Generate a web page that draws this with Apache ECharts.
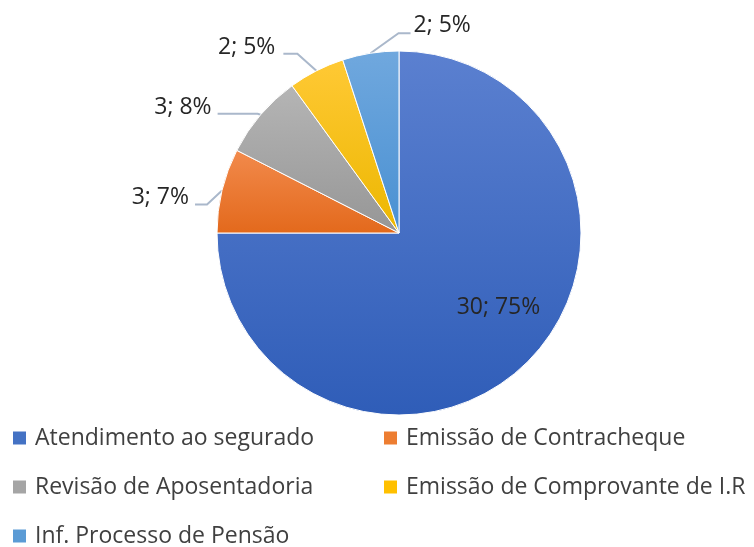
<!DOCTYPE html>
<html>
<head>
<meta charset="utf-8">
<script src="https://cdn.jsdelivr.net/npm/echarts@6/dist/echarts.min.js"></script>
<style>
  html, body { margin: 0; padding: 0; background: #fff; }
  #chart { width: 754px; height: 547px; }
</style>
</head>
<body>
<div id="chart"></div>
<script>
var categories = [
  "Atendimento ao segurado",
  "Emissão de Contracheque",
  "Revisão de Aposentadoria",
  "Emissão de Comprovante de I.R",
  "Inf. Processo de Pensão"
];
var values = [30, 3, 3, 2, 2];
var percentLabels = ["75%", "7%", "8%", "5%", "5%"];

// top / bottom shade of each slice, plus legend swatch
var sliceColors = [
  ["#5b80d0", "#2f5db8"],
  ["#f28a4c", "#e3691c"],
  ["#b5b5b5", "#969696"],
  ["#ffc935", "#ecb700"],
  ["#70a8de", "#4990d2"]
];
var legendColors = ["#4472c4", "#ed7d31", "#a5a5a5", "#ffc000", "#5b9bd5"];

var fontFamily = "'Open Sans', 'Liberation Sans', sans-serif";

// leader line shape per slice, relative to the slice edge: bend, tail, text gap
var leaders = [
  null,
  { bend: [-15, 14], tail: [-12, 0], side: "left", gap: 6, lift: -7 },
  { bend: [-3, -1], tail: [-40, 0], side: "left", gap: 6, lift: -6 },
  { bend: [-19, -17], tail: [-14, 0], side: "left", gap: 8, lift: -6 },
  { bend: [28, -20], tail: [12, 0], side: "right", gap: 3, lift: -8 }
];

var dom = document.getElementById("chart");
var myChart = echarts.init(dom, null, { renderer: "canvas" });

var pieData = categories.map(function (name, i) {
  var item = {
    name: name,
    value: values[i],
    itemStyle: {
      color: new echarts.graphic.LinearGradient(0, 0, 0, 1, [
        { offset: 0, color: sliceColors[i][0] },
        { offset: 1, color: sliceColors[i][1] }
      ])
    }
  };
  if (i === 0) {
    item.label = { position: "inside" };
  }
  return item;
});

var option = {
  animation: false,
  backgroundColor: "#ffffff",
  legend: {
    left: 8,
    top: 413,
    width: 745,
    itemWidth: 13,
    itemHeight: 13,
    itemGap: 9,
    icon: "rect",
    itemStyle: { borderWidth: 0 },
    data: categories.map(function (c, i) {
      return { name: c, itemStyle: { color: legendColors[i], borderWidth: 0 } };
    }),
    textStyle: {
      fontFamily: fontFamily,
      fontSize: 23,
      color: "#404040",
      width: 340,
      padding: [0, 0, 0, 4],
      lineHeight: 40
    }
  },
  series: [
    {
      type: "pie",
      center: [399, 233],
      radius: 182,
      startAngle: 90,
      clockwise: true,
      data: pieData,
      itemStyle: { borderColor: "#ffffff", borderWidth: 1 },
      label: {
        show: true,
        position: "outside",
        fontFamily: fontFamily,
        fontSize: 23,
        color: "#262626",
        formatter: function (p) {
          return values[p.dataIndex] + "; " + percentLabels[p.dataIndex];
        }
      },
      labelLine: {
        show: true,
        length: 15,
        length2: 20,
        lineStyle: { color: "#aab8cb", width: 2 }
      },
      labelLayout: function (p) {
        if (p.dataIndex === 0) return { dx: 33, dy: 8 };
        var cfg = leaders[p.dataIndex];
        var pts = p.labelLinePoints;
        if (!cfg || !pts) return;
        var p0 = [pts[0][0], pts[0][1]];
        var p1 = [p0[0] + cfg.bend[0], p0[1] + cfg.bend[1]];
        var p2 = [p1[0] + cfg.tail[0], p1[1] + cfg.tail[1]];
        var r = p.labelRect;
        var dx = cfg.side === "left"
          ? (p2[0] - cfg.gap) - (r.x + r.width)
          : (p2[0] + cfg.gap) - r.x;
        var dy = (p2[1] + cfg.lift) - (r.y + r.height / 2);
        return { dx: dx, dy: dy, labelLinePoints: [p0, p1, p2] };
      },
      emphasis: { disabled: true }
    }
  ]
};

myChart.setOption(option);
window.onresize = function () {
  myChart.resize();
};
</script>
</body>
</html>
